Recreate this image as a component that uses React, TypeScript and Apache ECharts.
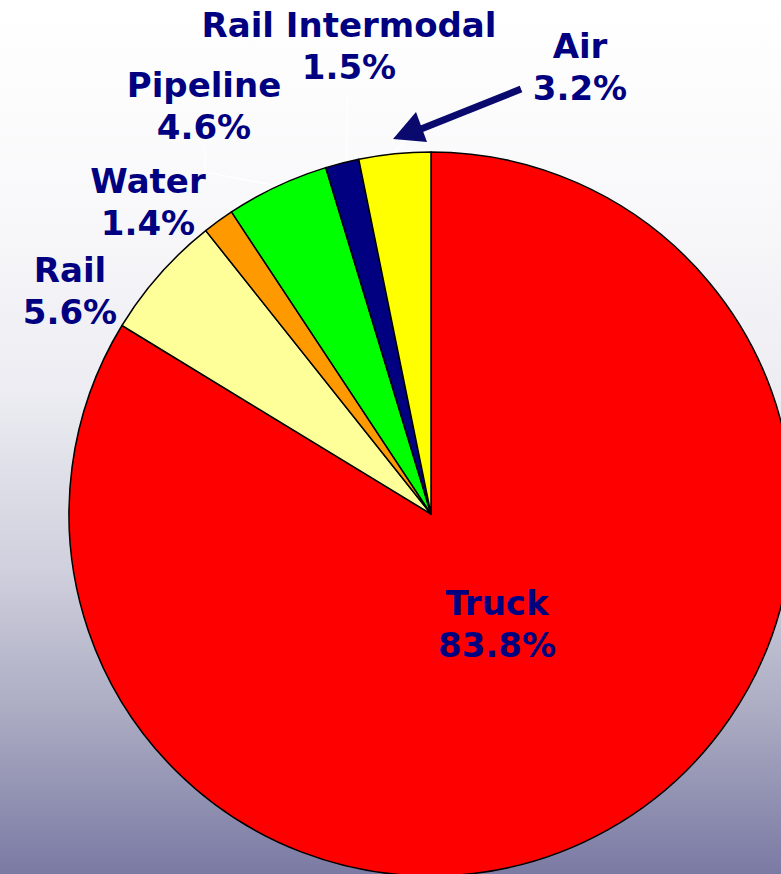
import React, { useEffect, useRef } from "react";
import * as echarts from "echarts";

const categories = ["Truck", "Rail", "Water", "Pipeline", "Rail Intermodal", "Air"];
const shares = [83.8, 5.6, 1.4, 4.6, 1.5, 3.2];
const sliceColors = ["#ff0000", "#ffff99", "#ff9900", "#00ff00", "#000080", "#ffff00"];

// label centre positions (layout only)
const labelPos: [number, number][] = [
  [497, 624],
  [70, 291],
  [148, 202],
  [204, 106],
  [349, 46],
  [580, 67],
];

const NAVY = "#000080";

export default function App() {
  const ref = useRef<HTMLDivElement>(null);
  useEffect(() => {
    if (!ref.current) return;
    const chart = echarts.init(ref.current, undefined, { renderer: "svg" });
    chart.setOption({
      animation: false,
      backgroundColor: "transparent",
      series: [
        {
          type: "pie",
          center: [431, 514],
          radius: 362,
          startAngle: 90,
          clockwise: true,
          avoidLabelOverlap: false,
          silent: true,
          itemStyle: { borderColor: "#000000", borderWidth: 1.5 },
          label: {
            show: true,
            position: "outside",
            color: NAVY,
            fontFamily: "DejaVu Sans",
            fontWeight: "bold",
            fontSize: 34,
            lineHeight: 42,
            align: "center",
            formatter: (p: any) => `${p.name}\n${Number(p.value).toFixed(1)}%`,
          },
          labelLine: { show: false },
          labelLayout: (p: any) => {
            const pos = labelPos[p.dataIndex];
            return { x: pos[0], y: pos[1], align: "center", verticalAlign: "middle" };
          },
          data: categories.map((c, i) => ({
            name: c,
            value: shares[i],
            itemStyle: { color: sliceColors[i] },
          })),
        },
      ],
      graphic: [
        {
          type: "polyline",
          shape: { points: [[205, 148], [205, 172], [278, 186]] },
          style: { stroke: "#ffffff", lineWidth: 1.2, fill: null },
          silent: true,
        },
        {
          type: "polyline",
          shape: { points: [[347, 98], [347, 162]] },
          style: { stroke: "#ffffff", lineWidth: 1.2, fill: null },
          silent: true,
        },
        {
          type: "polyline",
          shape: { points: [[394, 152], [404, 143]] },
          style: { stroke: "#ffffff", lineWidth: 1.2, fill: null },
          silent: true,
        },
        {
          type: "line",
          shape: { x1: 521, y1: 89, x2: 416, y2: 131 },
          style: { stroke: "#0a0a6e", lineWidth: 7 },
          silent: true,
        },
        {
          type: "polygon",
          shape: { points: [[393, 139], [416, 112], [427, 142]] },
          style: { fill: "#0a0a6e" },
          silent: true,
        },
      ],
    });
    return () => chart.dispose();
  }, []);
  return (
    <div
      ref={ref}
      style={{
        position: "fixed",
        left: 0,
        top: 0,
        width: 781,
        height: 874,
        background:
          "linear-gradient(to bottom, #ffffff 0%, #f8f8fa 25%, #ececf2 45%, #d0d0de 65%, #aaaac2 82%, #7a7aa4 100%)",
      }}
    />
  );
}
